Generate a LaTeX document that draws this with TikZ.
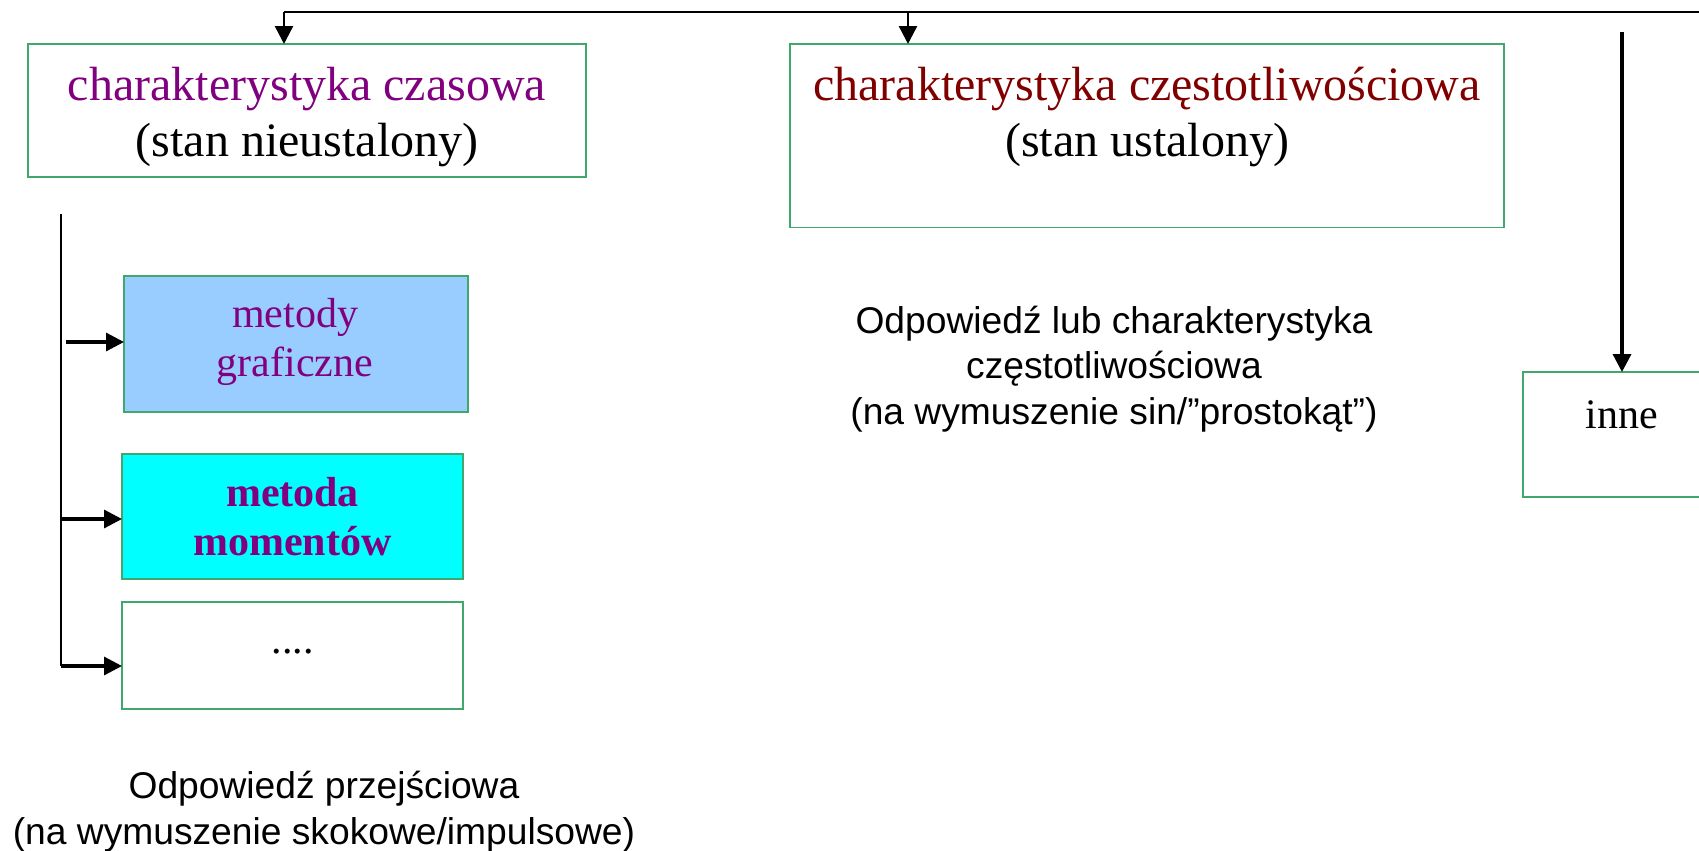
\documentclass[tikz,border=0pt]{standalone}
\usepackage{fontspec}
\setmainfont{Liberation Serif}
\newfontfamily\arialf{Liberation Sans}
\usetikzlibrary{arrows.meta}
\definecolor{boxgreen}{RGB}{64,168,108}
\definecolor{tpurple}{RGB}{128,0,128}
\definecolor{tred}{RGB}{128,0,0}
\definecolor{lblue}{RGB}{153,204,255}
\definecolor{cyanfill}{RGB}{0,255,255}
\begin{document}
\begin{tikzpicture}[x=0.5pt,y=-0.5pt,
  box/.style={draw=boxgreen, line width=0.8pt, anchor=north west, inner sep=0pt, outer sep=0pt},
  big/.style={font=\fontsize{24}{28}\selectfont, anchor=base, inner sep=0pt},
  mid/.style={font=\fontsize{21}{24}\selectfont, anchor=base, inner sep=0pt},
  sans/.style={font=\arialf\fontsize{18.6}{22}\selectfont, anchor=base, inner sep=0pt},
  arr/.style={-{Triangle[length=9pt,width=9pt]}, line width=1.6pt},
  ]
\useasboundingbox (0,0) rectangle (1699,851);

% boxes
\node[box, minimum width=279pt, minimum height=66.5pt] (b1) at (28,44) {};
\node[box, minimum width=357pt, minimum height=91.75pt] (b2) at (790,44) {};
\node[box, minimum width=100pt, minimum height=62.5pt] (b3) at (1523,372) {};
\node[box, fill=lblue, minimum width=172pt, minimum height=68pt] (m1) at (124,276) {};
\node[box, fill=cyanfill, minimum width=170.5pt, minimum height=62.5pt] (m2) at (122,454) {};
\node[box, minimum width=170.5pt, minimum height=53.5pt] (m3) at (122,602) {};

% box texts
\node[big, text=tpurple] (t1a) at (307,100) {charakterystyka czasowa};
\node[big] (t1b) at (307,156) {(stan nieustalony)};
\node[big, text=tred] (t2a) at (1147,100) {charakterystyka częstotliwościowa};
\node[big] (t2b) at (1147,156) {(stan ustalony)};
\node[mid] (t3) at (1622,428) {inne};
\node[mid, text=tpurple] (tm1a) at (295,327) {metody};
\node[mid, text=tpurple] (tm1b) at (295,376) {graficzne};
\node[mid, text=tpurple, font=\fontsize{21}{24}\selectfont\bfseries] (tm2a) at (292.5,506) {metoda};
\node[mid, text=tpurple, font=\fontsize{21}{24}\selectfont\bfseries] (tm2b) at (292.5,555) {momentów};
\node[mid] (tm3) at (292.5,653) {....};

% free texts
\node[sans] (s1a) at (1114,333) {Odpowiedź lub charakterystyka};
\node[sans] (s1b) at (1114,378) {częstotliwościowa};
\node[sans] (s1c) at (1114,424) {(na wymuszenie sin/”prostokąt”)};
\node[sans] (s2a) at (324,798) {Odpowiedź przejściowa};
\node[sans] (s2b) at (324,844) {(na wymuszenie skokowe/impulsowe)};

% top connectors
\coordinate (j1) at (284,12);
\coordinate (j2) at (908,12);
\coordinate (jr) at (1710,12);
\draw[line width=1pt] (j1) -- (jr);
\draw[arr, line width=1.2pt] (j1) -- (j1 |- b1.north);
\draw[arr, line width=1.2pt] (j2) -- (j2 |- b2.north);
\coordinate (r0) at (1622,32);
\draw[arr, line width=1.7pt] (r0) -- (r0 |- b3.north);

% left connectors
\coordinate (l0) at (61,214);
\coordinate (l1) at (61,666);
\draw[line width=0.9pt] (l0) -- (l1);
\coordinate (a1) at (66,342);
\draw[arr] (a1) -- (a1 -| m1.west);
\coordinate (a2) at (61,519);
\draw[arr] (a2) -- (a2 -| m2.west);
\draw[arr] (l1) -- (l1 -| m3.west);
\end{tikzpicture}
\end{document}
